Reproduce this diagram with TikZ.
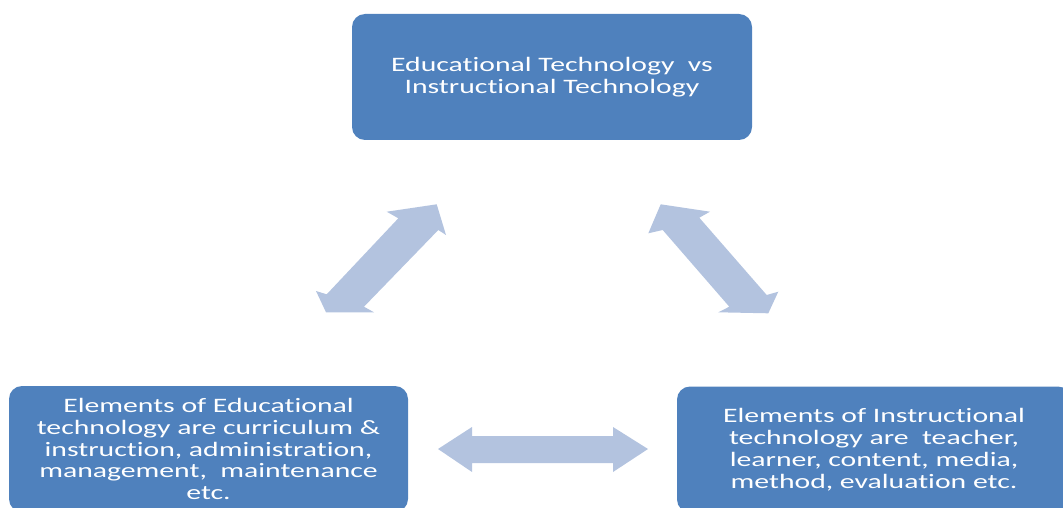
\documentclass[tikz,border=0pt]{standalone}
\usepackage{fontspec}
\setmainfont{Carlito}[FakeStretch=1.45,Ligatures=NoCommon]
\definecolor{boxblue}{HTML}{4F81BD}
\definecolor{arrowblue}{HTML}{B3C3DF}
\begin{document}
\begin{tikzpicture}[x=1pt,y=-1pt,
  box/.style={draw=none,fill=boxblue,rounded corners=13pt,text=white,
    minimum width=400pt,minimum height=126pt,align=center,inner sep=0pt,
    font=\fontsize{20.5}{21.8}\selectfont},
  blockarrow/.style={fill=arrowblue,draw=none}]
\useasboundingbox (0,0) rectangle (1063,508);
\clip (0,0) rectangle (1063,508);
\node[box] (top) at (552,77) {Educational Technology\ \ vs\\Instructional Technology};
\node[box,minimum width=399pt] (left) at (208.5,449) {Elements of Educational\\technology are curriculum \&\\instruction, administration,\\management,\ \ maintenance\\etc.};
\node[box,minimum width=394pt] (right) at (874,449.5) {Elements of Instructional\\technology are\ \ teacher,\\learner, content, media,\\method, evaluation etc.};
% left diagonal double arrow
\fill[blockarrow] (386.7,211.7) -- (436.7,204.3) -- (446,235) -- (438.3,230)
  -- (364,306.7) -- (374,312.3) -- (326,312.3) -- (316,291) -- (326.7,294.3)
  -- (398.3,218.3) -- cycle;
% right diagonal double arrow
\fill[blockarrow] (660.7,204.3) -- (710,211.7) -- (699.3,217.7) -- (766.7,295)
  -- (778.3,291.7) -- (768.3,313.3) -- (718.3,312.3) -- (729.3,306.7)
  -- (662.7,230) -- (648.3,233.3) -- cycle;
% horizontal double arrow
\fill[blockarrow] (438,449) -- (472,427) -- (472,436) -- (613,436) -- (613,427)
  -- (648,449) -- (613,472) -- (613,463) -- (472,463) -- (472,472) -- cycle;
\end{tikzpicture}
\end{document}
